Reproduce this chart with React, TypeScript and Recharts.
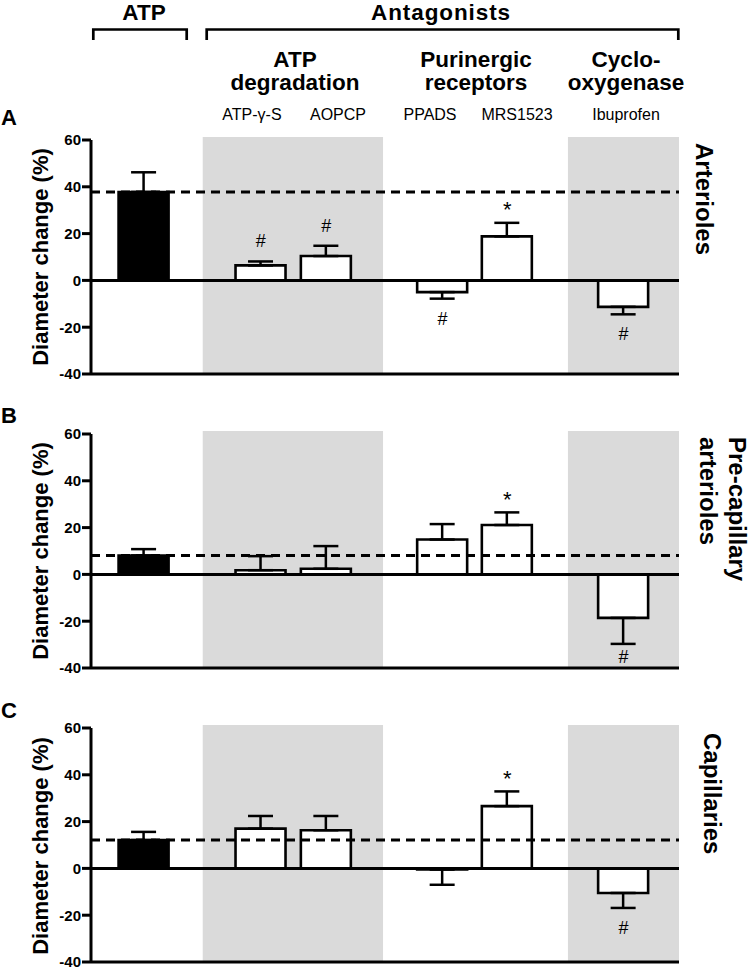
import React from 'react';
import {
  BarChart,
  Bar,
  Cell,
  XAxis,
  YAxis,
  ErrorBar,
  ReferenceArea,
  ReferenceLine,
  ReferenceDot,
} from 'recharts';

// ---------- data ----------
const categories = ['ATP', 'ATP-γ-S', 'AOPCP', 'PPADS', 'MRS1523', 'Ibuprofen'];
// category positions along the x axis (group gaps between ATP / degradation / purinergic / COX)
const xPositions = [0.81, 2.6, 3.6, 5.38, 6.37, 8.15];
const xDomain: [number, number] = [0, 9];
// shaded antagonist groups (ATP degradation, cyclo-oxygenase)
const shadedGroups: [number, number][] = [
  [1.71, 4.47],
  [7.3, 9],
];

const yTicks = [-40, -20, 0, 20, 40, 60];

// A: Arterioles
const arteriolesMean = [37.8, 6.4, 10.4, -5.0, 18.8, -11.3];
const arteriolesSem = [8.4, 1.7, 4.4, 2.8, 5.8, 3.2];
const arteriolesMarks = ['', '#', '#', '#', '*', '#'];

// B: Pre-capillary arterioles
const precapMean = [8.1, 1.8, 2.4, 14.9, 21.1, -18.6];
const precapSem = [2.7, 6.0, 9.7, 6.6, 5.4, 11.1];
const precapMarks = ['', '', '', '', '*', '#'];

// C: Capillaries
const capMean = [12.1, 17.0, 16.3, -0.5, 26.6, -10.5];
const capSem = [3.5, 5.4, 6.1, 6.5, 6.3, 6.4];
const capMarks = ['', '', '', '', '*', '#'];

// ---------- styling ----------
const FONT = '"Liberation Sans", Arial, Helvetica, sans-serif';
const CHART_W = 750;
const CHART_H = 254;
const MARGIN = { top: 10, right: 71, bottom: 8, left: 51 };
const PLOT_BOTTOM = CHART_H - MARGIN.bottom - 2;

function MarkText(props: any) {
  const { viewBox, sym, dir } = props;
  if (!viewBox || !sym) return null;
  const cx = viewBox.x + (viewBox.width || 0) / 2;
  const cy = viewBox.y + (viewBox.height || 0) / 2;
  const isStar = sym === '*';
  const off = isStar ? 13 : 20;
  let y = cy + dir * off;
  y = Math.min(y, PLOT_BOTTOM - 11);
  return (
    <text
      x={cx}
      y={y}
      textAnchor="middle"
      dominantBaseline="central"
      fontSize={isStar ? 22 : 18}
      fontFamily={FONT}
      fill="#000"
    >
      {sym}
    </text>
  );
}

function Panel({
  means,
  sems,
  marks,
  top,
}: {
  means: number[];
  sems: number[];
  marks: string[];
  top: number;
}) {
  const data = categories.map((name, i) => ({
    name,
    pos: xPositions[i],
    mean: means[i],
    err: means[i] >= 0 ? [0, sems[i]] : [sems[i], 0],
    tip: means[i] >= 0 ? means[i] + sems[i] : means[i] - sems[i],
    mark: marks[i],
  }));
  return (
    <div style={{ position: 'absolute', left: 0, top }}>
      <BarChart width={CHART_W} height={CHART_H} data={data} margin={MARGIN}>
        {shadedGroups.map((g, i) => (
          <ReferenceArea
            key={'band' + i}
            x1={g[0]}
            x2={g[1]}
            y1={-40}
            y2={61.3}
            fill="#dadada"
            fillOpacity={1}
            stroke="none"
            ifOverflow="visible"
          />
        ))}
        <XAxis
          type="number"
          dataKey="pos"
          domain={xDomain}
          ticks={xPositions}
          allowDataOverflow
          tick={false}
          tickLine={false}
          height={2}
          axisLine={{ stroke: '#000', strokeWidth: 3 }}
        />
        <YAxis
          type="number"
          domain={[-40, 60]}
          ticks={yTicks}
          interval={0}
          allowDataOverflow
          width={40}
          tickSize={9}
          tickMargin={1}
          axisLine={{ stroke: '#000', strokeWidth: 3 }}
          tickLine={{ stroke: '#000', strokeWidth: 3 }}
          tick={{ fill: '#000', fontSize: 15, fontWeight: 700, fontFamily: FONT }}
        />
        <Bar
          dataKey="mean"
          barSize={50}
          stroke="#000"
          strokeWidth={2.6}
          isAnimationActive={false}
        >
          {data.map((d, i) => (
            <Cell key={d.name} fill={i === 0 ? '#000' : '#fff'} />
          ))}
          <ErrorBar
            dataKey="err"
            direction="y"
            width={12.5}
            stroke="#000"
            strokeWidth={2.5}
            isAnimationActive={false}
          />
        </Bar>
        <ReferenceLine y={0} stroke="#000" strokeWidth={3} />
        <ReferenceLine
          y={means[0]}
          stroke="#000"
          strokeWidth={3}
          strokeDasharray="9 6"
        />
        {data
          .filter((d) => d.mark)
          .map((d) => (
            <ReferenceDot
              key={'mark' + d.name}
              x={d.pos}
              y={d.tip}
              r={0}
              fill="none"
              stroke="none"
              label={<MarkText sym={d.mark} dir={d.mean >= 0 ? -1 : 1} />}
            />
          ))}
      </BarChart>
    </div>
  );
}

function Overlay() {
  const bold = { fontFamily: FONT, fontWeight: 700, fill: '#000' } as const;
  const reg = { fontFamily: FONT, fontWeight: 400, fill: '#000' } as const;
  return (
    <svg
      width={750}
      height={969}
      style={{ position: 'absolute', left: 0, top: 0, pointerEvents: 'none' }}
    >
      {/* top headers */}
      <text x={144} y={20} textAnchor="middle" fontSize={22.5} {...bold}>
        ATP
      </text>
      <text x={441} y={20} textAnchor="middle" fontSize={22.5} letterSpacing={0.9} {...bold}>
        Antagonists
      </text>
      <path d="M93.3 40 V29.5 H186.7 V40" fill="none" stroke="#000" strokeWidth={2.7} />
      <path d="M206.7 40 V29.5 H678.3 V40" fill="none" stroke="#000" strokeWidth={2.7} />

      <text x={295} y={67} textAnchor="middle" fontSize={22.5} {...bold}>ATP</text>
      <text x={295} y={90} textAnchor="middle" fontSize={22.5} {...bold}>degradation</text>
      <text x={476} y={67} textAnchor="middle" fontSize={22.5} {...bold}>Purinergic</text>
      <text x={476} y={90} textAnchor="middle" fontSize={22.5} {...bold}>receptors</text>
      <text x={626} y={67} textAnchor="middle" fontSize={22.5} {...bold}>Cyclo-</text>
      <text x={626} y={90} textAnchor="middle" fontSize={22.5} {...bold}>oxygenase</text>

      <text x={252} y={120} textAnchor="middle" fontSize={16} {...reg}>ATP-γ-S</text>
      <text x={338} y={120} textAnchor="middle" fontSize={16} {...reg}>AOPCP</text>
      <text x={430} y={120} textAnchor="middle" fontSize={16} {...reg}>PPADS</text>
      <text x={517} y={120} textAnchor="middle" fontSize={16} {...reg}>MRS1523</text>
      <text x={626} y={120} textAnchor="middle" fontSize={16} {...reg}>Ibuprofen</text>

      {/* panel letters */}
      <text x={1} y={125} fontSize={22} {...bold}>A</text>
      <text x={1} y={423} fontSize={22} {...bold}>B</text>
      <text x={1} y={718} fontSize={22} {...bold}>C</text>

      {/* y-axis titles */}
      {[257, 551, 846].map((cy) => (
        <text
          key={cy}
          transform={`translate(48 ${cy}) rotate(-90)`}
          textAnchor="middle"
          fontSize={22}
          {...bold}
        >
          Diameter change (%)
        </text>
      ))}

      {/* right-side vessel labels */}
      <text transform="translate(696 143) rotate(90)" fontSize={24} {...bold}>
        Arterioles
      </text>
      <text transform="translate(729 437) rotate(90)" fontSize={24} {...bold}>
        Pre-capillary
      </text>
      <text transform="translate(700 437) rotate(90)" fontSize={24} {...bold}>
        arterioles
      </text>
      <text transform="translate(704 733) rotate(90)" fontSize={24} {...bold}>
        Capillaries
      </text>
    </svg>
  );
}

export default function App() {
  return (
    <div
      style={{
        position: 'absolute',
        left: 0,
        top: 0,
        width: 750,
        height: 969,
        background: '#fff',
        overflow: 'hidden',
      }}
    >
      <Panel means={arteriolesMean} sems={arteriolesSem} marks={arteriolesMarks} top={130} />
      <Panel means={precapMean} sems={precapSem} marks={precapMarks} top={424} />
      <Panel means={capMean} sems={capSem} marks={capMarks} top={718} />
      <Overlay />
    </div>
  );
}
